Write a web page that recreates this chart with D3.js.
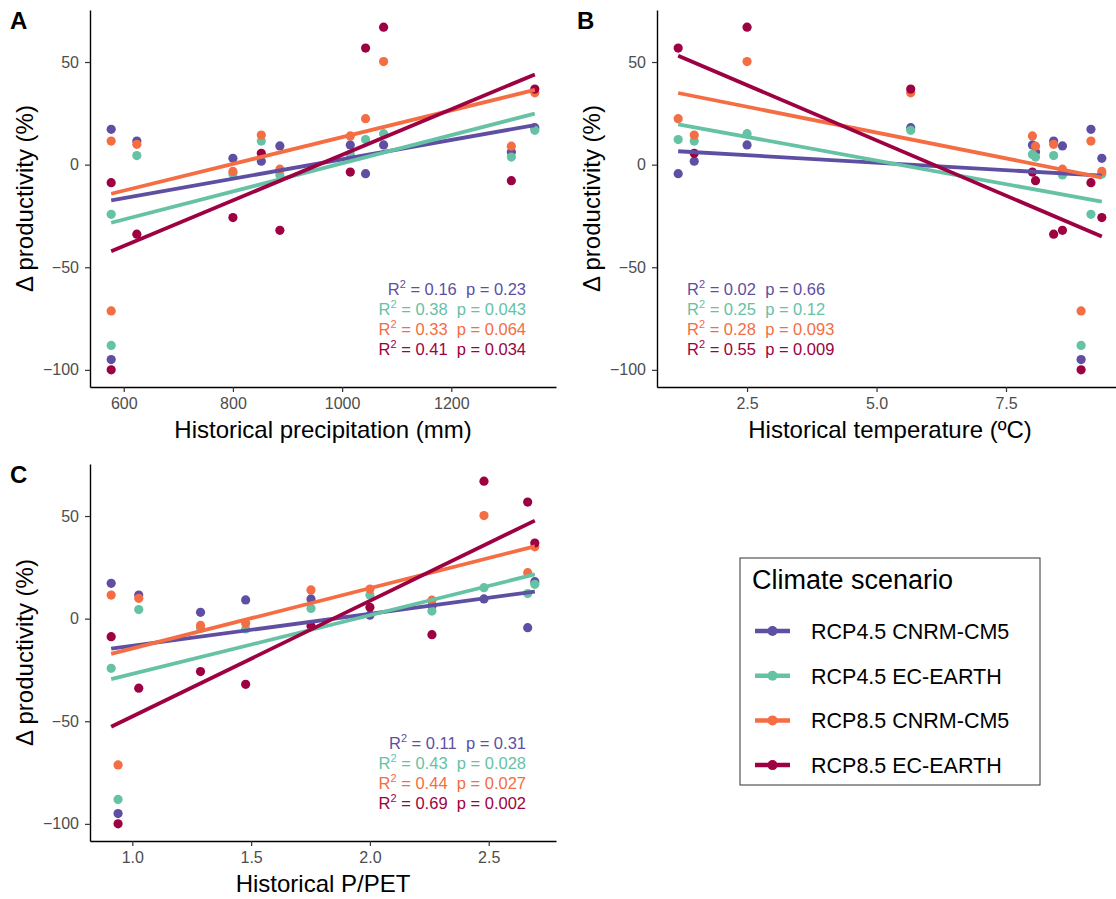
<!DOCTYPE html>
<html>
<head>
<meta charset="utf-8">
<script src="https://cdn.jsdelivr.net/npm/d3@7"></script>
<style>
  body { margin: 0; background: #fff; }
  text { font-family: "Liberation Sans", Arial, sans-serif; }
</style>
</head>
<body>
<div id="chart"></div>
<script>
// scenarios and their colours (Spectral)
const scenarios = ["RCP4.5 CNRM-CM5", "RCP4.5 EC-EARTH", "RCP8.5 CNRM-CM5", "RCP8.5 EC-EARTH"];
const colours = ["#5e4fa2", "#66c2a5", "#f46d43", "#9e0142"];

// one entry per site
const precipitation = [577, 577, 624, 800, 852, 886, 1015, 1043, 1076, 1310, 1353];
const temperature   = [9.14, 8.95, 8.42, 9.35, 1.48, 8.59, 8.01, 1.17, 2.5, 8.07, 5.66];
const pPet          = [0.911, 0.94, 1.027, 1.287, 2.0, 1.477, 1.752, 2.664, 2.48, 2.261, 2.694];

// delta productivity (%) per scenario
const rcp45Cnrm = [17.2, -95, 11.5, 3.1, 1.7, 9.1, 9.6, -4.4, 9.6, 6.2, 18];
const rcp45Ec   = [-24.2, -88.1, 4.4, -4.6, 11.5, -5.0, 5.0, 12.2, 15.1, 3.7, 16.7];
const rcp85Cnrm = [11.5, -71.3, 9.9, -3.3, 14.4, -2.2, 14.0, 22.4, 50.2, 9.0, 35];
const rcp85Ec   = [-8.8, -100, -33.9, -25.8, 5.5, -32, -3.6, 56.8, 67, -7.8, 36.8];

// R2 / p labels
const statsA = [["0.16", "0.23"], ["0.38", "0.043"], ["0.33", "0.064"], ["0.41", "0.034"]];
const statsB = [["0.02", "0.66"], ["0.25", "0.12"], ["0.28", "0.093"], ["0.55", "0.009"]];
const statsC = [["0.11", "0.31"], ["0.43", "0.028"], ["0.44", "0.027"], ["0.69", "0.002"]];

const yTicks = [-100, -50, 0, 50];
const xTicksA = [600, 800, 1000, 1200];
const xTicksB = [2.5, 5.0, 7.5];
const xTicksC = [1.0, 1.5, 2.0, 2.5];

const series = [rcp45Cnrm, rcp45Ec, rcp85Cnrm, rcp85Ec];

const W = 1116, H = 899;
const svg = d3.select('#chart').append('svg')
    .attr('width', W)
    .attr('height', H)
    .style('background', '#fff');

// ggplot style 5% expansion
function expand(ext) {
    const pad = (ext[1] - ext[0]) * 0.05;
    return [ext[0] - pad, ext[1] + pad];
}

function fit(xs, ys) {
    const mx = d3.mean(xs), my = d3.mean(ys);
    let sxy = 0, sxx = 0;
    xs.forEach((x, i) => { sxy += (x - mx) * (ys[i] - my); sxx += (x - mx) * (x - mx); });
    const b = sxy / sxx;
    return x => my + b * (x - mx);
}

const yDomain = expand(d3.extent(series.flat()));

const panels = [
    {label: 'A', xs: precipitation, left: 90, top: 10, ticks: xTicksA, fmt: d3.format('d'),
     title: 'Historical precipitation (mm)', stats: statsA, align: 'end'},
    {label: 'B', xs: temperature, left: 657, top: 10, ticks: xTicksB, fmt: d3.format('.1f'),
     title: 'Historical temperature (ºC)', stats: statsB, align: 'start'},
    {label: 'C', xs: pPet, left: 90, top: 464, ticks: xTicksC, fmt: d3.format('.1f'),
     title: 'Historical P/PET', stats: statsC, align: 'end'}
];
const pw = 466, ph = 377;

panels.forEach(p => {
    const g = svg.append('g').attr('transform', `translate(${p.left},${p.top})`);
    const x = d3.scaleLinear().domain(expand(d3.extent(p.xs))).range([0, pw]);
    const y = d3.scaleLinear().domain(yDomain).range([ph, 0]);

    // points
    series.forEach((vals, s) => {
        g.append('g').selectAll('circle')
            .data(vals.map((v, i) => [p.xs[i], v]))
            .join('circle')
            .attr('cx', d => x(d[0]))
            .attr('cy', d => y(d[1]))
            .attr('r', 4.6)
            .attr('fill', colours[s]);
    });

    // regression lines
    const ext = d3.extent(p.xs);
    series.forEach((vals, s) => {
        const f = fit(p.xs, vals);
        g.append('line')
            .attr('x1', x(ext[0])).attr('y1', y(f(ext[0])))
            .attr('x2', x(ext[1])).attr('y2', y(f(ext[1])))
            .attr('stroke', colours[s])
            .attr('stroke-width', 3.8);
    });

    // axes
    const ya = g.append('g').call(d3.axisLeft(y).tickValues(yTicks).tickSize(5).tickPadding(6).tickSizeOuter(0));
    const xa = g.append('g').attr('transform', `translate(0,${ph})`)
        .call(d3.axisBottom(x).tickValues(p.ticks).tickFormat(p.fmt).tickSize(5).tickPadding(6).tickSizeOuter(0));
    [ya, xa].forEach(a => {
        a.select('.domain').attr('stroke', '#000').attr('stroke-width', 1.4);
        a.selectAll('.tick line').attr('stroke', '#333').attr('stroke-width', 1.2);
        a.selectAll('.tick text').attr('fill', '#4d4d4d').style('font-size', '16px');
    });

    // axis titles
    g.append('text')
        .attr('x', pw / 2).attr('y', ph + 51)
        .attr('text-anchor', 'middle')
        .style('font-size', '24px')
        .attr('fill', '#000')
        .text(p.title);
    g.append('text')
        .attr('transform', `translate(-57,${ph / 2}) rotate(-90)`)
        .attr('text-anchor', 'middle')
        .style('font-size', '24px')
        .attr('fill', '#000')
        .text('Δ productivity (%)');

    // panel tag
    svg.append('text')
        .attr('x', p.left - 80).attr('y', p.top + 19)
        .style('font-size', '24px')
        .style('font-weight', 'bold')
        .text(p.label);

    // stats
    const sx = p.align === 'end' ? pw - 30 : 30;
    p.stats.forEach((st, s) => {
        const t = g.append('text')
            .attr('x', sx).attr('y', 285 + s * 20)
            .attr('text-anchor', p.align)
            .attr('fill', colours[s])
            .style('font-size', '16.5px')
            .style('white-space', 'pre');
        t.append('tspan').text('R');
        t.append('tspan').attr('dy', -7).style('font-size', '11px').text('2');
        t.append('tspan').attr('dy', 7).text(` = ${st[0]}  p = ${st[1]}`);
    });
});

// legend
const lg = svg.append('g').attr('transform', 'translate(740,558)');
lg.append('rect')
    .attr('width', 300).attr('height', 227)
    .attr('fill', '#fff')
    .attr('stroke', '#333')
    .attr('stroke-width', 1);
lg.append('text')
    .attr('x', 12).attr('y', 31)
    .style('font-size', '27px')
    .text('Climate scenario');
scenarios.forEach((s, i) => {
    const cy = 73 + i * 44.7;
    lg.append('line')
        .attr('x1', 15).attr('x2', 50)
        .attr('y1', cy).attr('y2', cy)
        .attr('stroke', colours[i]).attr('stroke-width', 4.5);
    lg.append('circle')
        .attr('cx', 32.5).attr('cy', cy).attr('r', 5)
        .attr('fill', colours[i]);
    lg.append('text')
        .attr('x', 71).attr('y', cy + 8)
        .style('font-size', '21.5px')
        .text(s);
});
</script>
</body>
</html>
